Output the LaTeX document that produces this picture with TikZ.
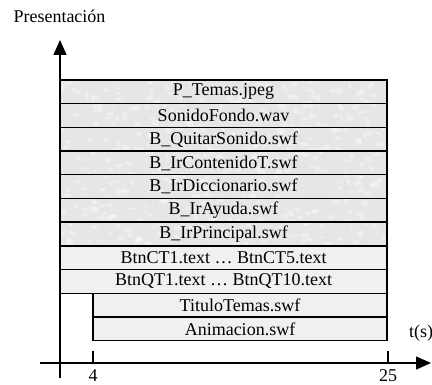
\documentclass[tikz,border=0pt]{standalone}
\usepackage{fontspec}
\setmainfont{Liberation Serif}
\usetikzlibrary{arrows.meta}
\definecolor{texbase}{RGB}{230,230,230}
\definecolor{plainfill}{RGB}{240,240,240}
\tikzset{
  bar/.style={draw, line width=1.4pt, inner sep=0pt, outer sep=0pt, anchor=north west,
    minimum height=23.7pt, font=\fontsize{18}{20}\selectfont},
  texbar/.style={bar, fill=texbase, minimum width=327pt},
  plainbar/.style={bar, fill=plainfill, minimum width=327pt},
  shortbar/.style={bar, fill=plainfill, minimum width=294pt},
  axis/.style={line width=1.6pt, -{Triangle[length=15pt,width=13pt]}},
  tick/.style={line width=1.4pt},
  lbl/.style={font=\fontsize{18}{20}\selectfont, inner sep=0pt}
}
\begin{document}
\begin{tikzpicture}[x=1pt,y=-1pt]
\useasboundingbox (0,0) rectangle (432,385);
% bars
\foreach \t [count=\i from 0] in {P\_Temas.jpeg,SonidoFondo.wav,B\_QuitarSonido.swf,B\_IrContenidoT.swf,B\_IrDiccionario.swf,B\_IrAyuda.swf,B\_IrPrincipal.swf}{
  \node[texbar] (t\i) at (60,{80+23.7*\i}) {};
  \begin{scope}
    \clip (60,{80+23.7*\i}) rectangle (387,{103.7+23.7*\i});
    \pgfmathsetseed{\i*7+3}
    \foreach \k in {1,...,70}{
      \fill[white, opacity=0.35] ({60+rnd*327},{80+23.7*\i+rnd*23.7}) ellipse ({1.5+rnd*3} and {1+rnd*2});
    }
    \foreach \k in {1,...,25}{
      \fill[gray!30, opacity=0.25] ({60+rnd*327},{80+23.7*\i+rnd*23.7}) circle ({0.6+rnd*1.2});
    }
  \end{scope}
  \draw[line width=1.4pt] (t\i.north west) rectangle (t\i.south east);
  \node[lbl] at (t\i.center) {\t};
}
\node[plainbar] (b1) at (60,{80+23.7*7}) {BtnCT1.text … BtnCT5.text};
\node[plainbar] (b2) at (60,{80+23.7*8}) {BtnQT1.text … BtnQT10.text};
\node[shortbar] (s1) at (93,{80+23.7*9}) {TituloTemas.swf};
\node[shortbar] (s2) at (93,{80+23.7*10}) {Animacion.swf};
% axes
\coordinate (ybot) at (60,378);
\coordinate (ytop) at (60,40);
\coordinate (xleft) at (40,363);
\coordinate (xright) at (431,363);
\draw[axis] (ybot) -- (ytop);
\draw[axis] (xleft) -- (xright);
% ticks
\coordinate (t4a) at (93,351);
\coordinate (t4b) at (93,363);
\coordinate (t25a) at (388,351);
\coordinate (t25b) at (388,363);
\draw[tick] (t4a) -- (t4b);
\draw[tick] (t25a) -- (t25b);
\node[lbl, anchor=base] (l4) at (93,381.5) {4};
\node[lbl, anchor=base] (l25) at (388,381.5) {25};
\node[lbl] (ts) at (421,333) {t(s)};
\node[lbl] (pres) at (59.5,16) {Presentación};
\end{tikzpicture}
\end{document}
